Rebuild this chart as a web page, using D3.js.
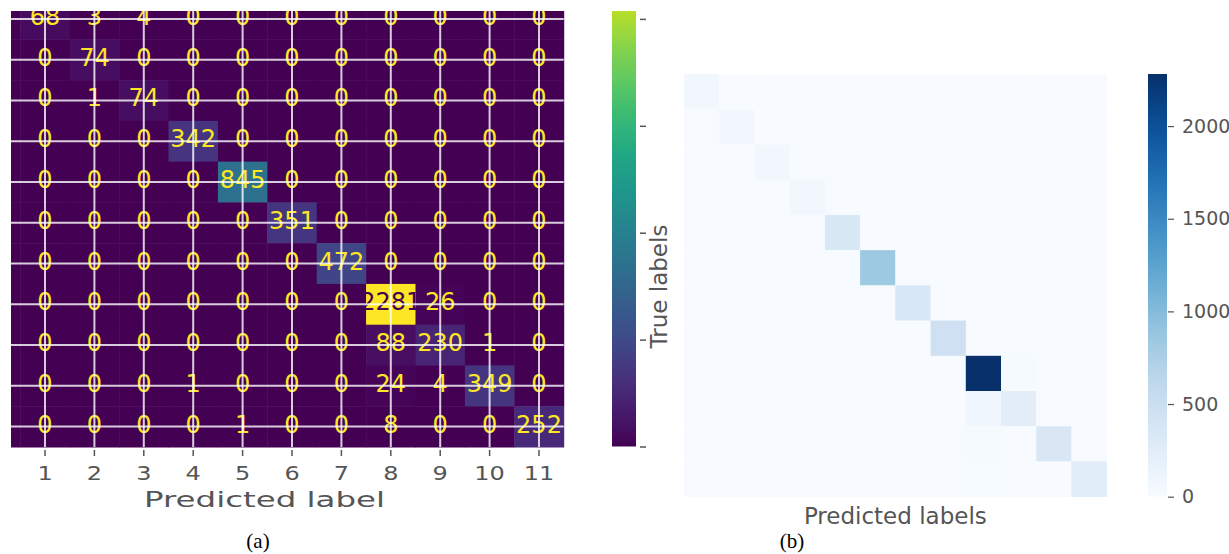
<!DOCTYPE html>
<html>
<head>
<meta charset="utf-8">
<script src="https://cdn.jsdelivr.net/npm/d3@7"></script>
<style>
  body { margin: 0; background: #fff; }
</style>
</head>
<body>
<div id="chart"></div>
<script>
// Confusion matrix, classes 0..11 (row = true, col = predicted)
var classes = [0, 1, 2, 3, 4, 5, 6, 7, 8, 9, 10, 11];
var confusion = [
  [70, 0, 0, 0, 0, 0, 0, 0, 0, 0, 0, 0],
  [0, 68, 3, 4, 0, 0, 0, 0, 0, 0, 0, 0],
  [0, 0, 74, 0, 0, 0, 0, 0, 0, 0, 0, 0],
  [0, 0, 1, 74, 0, 0, 0, 0, 0, 0, 0, 0],
  [0, 0, 0, 0, 342, 0, 0, 0, 0, 0, 0, 0],
  [0, 0, 0, 0, 0, 845, 0, 0, 0, 0, 0, 0],
  [0, 0, 0, 0, 0, 0, 351, 0, 0, 0, 0, 0],
  [0, 0, 0, 0, 0, 0, 0, 472, 0, 0, 0, 0],
  [0, 0, 0, 0, 0, 0, 0, 0, 2281, 26, 0, 0],
  [0, 0, 0, 0, 0, 0, 0, 0, 88, 230, 1, 0],
  [0, 0, 0, 0, 1, 0, 0, 0, 24, 4, 349, 0],
  [0, 0, 0, 0, 0, 1, 0, 0, 8, 0, 0, 252]
];
// panel (a) only shows classes 1..11 on its axis
var tickClasses = [1, 2, 3, 4, 5, 6, 7, 8, 9, 10, 11];
var tickLabels = ["1", "2", "3", "4", "5", "6", "7", "8", "9", "10", "11"];
var barTicks = [0, 500, 1000, 1500, 2000];

var width = 1229;
var height = 554;
var grey = "#555555";
var sans = "DejaVu Sans, sans-serif";
var serif = "Liberation Serif, serif";

var cells = [];
confusion.forEach((row, i) => row.forEach((v, j) => cells.push({row: i, col: j, value: v})));
var vmax = d3.max(cells, (d) => d.value);

const svg = d3.select("#chart").append("svg")
              .attr("width", width).attr("height", height);
var defs = svg.append("defs");

// ---------------- Panel (a): viridis matrix, cropped at top/left ----------------
defs.append("clipPath").attr("id", "clipA")
    .append("rect").attr("x", 11).attr("y", 11).attr("width", 636).attr("height", 543);

var xA = d3.scaleBand().domain(classes).range([-29.1, 563.7]);
var yA = d3.scaleBand().domain(classes).range([-42.2, 447]);
var colorA = d3.scaleSequential(d3.interpolateViridis).domain([0, vmax]);

var gA = svg.append("g").attr("clip-path", "url(#clipA)");

gA.selectAll(".cellA").data(cells).enter()
  .append("rect").attr("class", "cellA")
  .attr("x", (d) => xA(d.col)).attr("y", (d) => yA(d.row))
  .attr("width", xA.bandwidth() + 0.5).attr("height", yA.bandwidth() + 0.5)
  .attr("fill", (d) => colorA(d.value));

// row 0 / column 0 sit entirely outside the cropped view, so no labels for them
gA.selectAll(".valA").data(cells.filter((d) => d.row > 0 && d.col > 0)).enter()
  .append("text").attr("class", "valA")
  .attr("x", (d) => xA(d.col) + xA.bandwidth() / 2)
  .attr("y", (d) => yA(d.row) + yA.bandwidth() / 2 + 6)
  .attr("text-anchor", "middle")
  .style("font-family", sans)
  .attr("font-size", 24)
  .attr("fill", (d) => d.value < vmax / 2 ? d3.interpolateViridis(1) : d3.interpolateViridis(0))
  .text((d) => d.value);

// white grid lines over the matrix
gA.selectAll(".vgrid").data(tickClasses).enter()
  .append("line").attr("class", "vgrid")
  .attr("x1", (d) => xA(d) + xA.bandwidth() / 2).attr("x2", (d) => xA(d) + xA.bandwidth() / 2)
  .attr("y1", yA(0)).attr("y2", yA.range()[1])
  .attr("stroke", "#fff").attr("stroke-opacity", 0.8).attr("stroke-width", 2);

gA.selectAll(".hgrid").data(tickClasses).enter()
  .append("line").attr("class", "hgrid")
  .attr("y1", (d) => yA(d) + yA.bandwidth() / 2).attr("y2", (d) => yA(d) + yA.bandwidth() / 2)
  .attr("x1", xA(0)).attr("x2", xA.range()[1])
  .attr("stroke", "#fff").attr("stroke-opacity", 0.8).attr("stroke-width", 2);

// x axis of (a)
var xAxisA = d3.axisBottom(xA).tickValues(tickClasses)
               .tickFormat((d, i) => tickLabels[i]).tickSize(6);
var axA = svg.append("g").attr("transform", "translate(0,450)").call(xAxisA);
axA.select(".domain").remove();
axA.selectAll("line").attr("stroke", grey).attr("stroke-width", 1.5);
axA.selectAll("text")
   .attr("y", 30).attr("dy", null)
   .attr("font-size", 20).style("font-family", sans)
   .attr("fill", grey)
   .attr("transform", "scale(1.2,1)")
   .attr("x", 0);

svg.append("text")
   .attr("x", 264.5).attr("y", 506.7)
   .attr("text-anchor", "middle")
   .style("font-family", sans)
   .attr("font-size", 21)
   .attr("textLength", 241).attr("lengthAdjust", "spacingAndGlyphs")
   .attr("fill", grey)
   .text("Predicted label");

// colorbar of (a), top part cut off
var cbA = d3.scaleLinear().domain([0, vmax]).range([446.5, -41.2]);
var stops = d3.range(0, 1.0001, 0.05);
var gradA = defs.append("linearGradient").attr("id", "gradA")
                .attr("x1", 0).attr("y1", 1).attr("x2", 0).attr("y2", 0);
gradA.selectAll("stop").data(stops).enter().append("stop")
     .attr("offset", (d) => d).attr("stop-color", (d) => d3.interpolateViridis(d));

gA.append("rect")
  .attr("x", 612).attr("y", cbA(vmax))
  .attr("width", 24).attr("height", cbA(0) - cbA(vmax))
  .attr("fill", "url(#gradA)");

var cbAxisA = gA.append("g").attr("transform", "translate(640,0)")
                .call(d3.axisRight(cbA).tickValues(barTicks).tickSize(6).tickFormat(""));
cbAxisA.select(".domain").remove();
cbAxisA.selectAll("line").attr("stroke", grey).attr("stroke-width", 1.5);

// ---------------- Panel (b): Blues heatmap ----------------
var xB = d3.scaleBand().domain(classes).range([684, 1106.7]);
var yB = d3.scaleBand().domain(classes).range([74, 496.7]);
var colorB = d3.scaleSequential(d3.interpolateBlues).domain([0, vmax]);

svg.selectAll(".cellB").data(cells).enter()
   .append("rect").attr("class", "cellB")
   .attr("x", (d) => xB(d.col)).attr("y", (d) => yB(d.row))
   .attr("width", xB.bandwidth() + 0.3).attr("height", yB.bandwidth() + 0.3)
   .attr("fill", (d) => colorB(d.value));

svg.append("text")
   .attr("transform", "translate(667,286.5) rotate(-90)")
   .attr("text-anchor", "middle")
   .style("font-family", sans)
   .attr("font-size", 23)
   .attr("fill", grey)
   .text("True labels");

svg.append("text")
   .attr("x", (xB.range()[0] + xB.range()[1]) / 2).attr("y", 524)
   .attr("text-anchor", "middle")
   .style("font-family", sans)
   .attr("font-size", 23)
   .attr("fill", grey)
   .text("Predicted labels");

// colorbar of (b)
var cbB = d3.scaleLinear().domain([0, vmax]).range([496.7, 74]);
var gradB = defs.append("linearGradient").attr("id", "gradB")
                .attr("x1", 0).attr("y1", 1).attr("x2", 0).attr("y2", 0);
gradB.selectAll("stop").data(stops).enter().append("stop")
     .attr("offset", (d) => d).attr("stop-color", (d) => d3.interpolateBlues(d));

svg.append("rect")
   .attr("x", 1148).attr("y", cbB(vmax))
   .attr("width", 19).attr("height", cbB(0) - cbB(vmax))
   .attr("fill", "url(#gradB)");

var cbAxisB = svg.append("g").attr("transform", "translate(1168,0)")
                 .call(d3.axisRight(cbB).tickValues(barTicks).tickSize(6).tickPadding(8)
                         .tickFormat(d3.format("d")));
cbAxisB.select(".domain").remove();
cbAxisB.selectAll("line").attr("stroke", grey).attr("stroke-width", 1.2);
cbAxisB.selectAll("text")
       .attr("font-size", 19).style("font-family", sans).attr("fill", grey);

// ---------------- Sub-captions ----------------
svg.append("text")
   .attr("x", 258).attr("y", 548)
   .attr("text-anchor", "middle")
   .attr("font-size", 21).style("font-family", serif)
   .attr("fill", "#000")
   .text("(a)");

svg.append("text")
   .attr("x", 792).attr("y", 548)
   .attr("text-anchor", "middle")
   .attr("font-size", 21).style("font-family", serif)
   .attr("fill", "#000")
   .text("(b)");
</script>
</body>
</html>
